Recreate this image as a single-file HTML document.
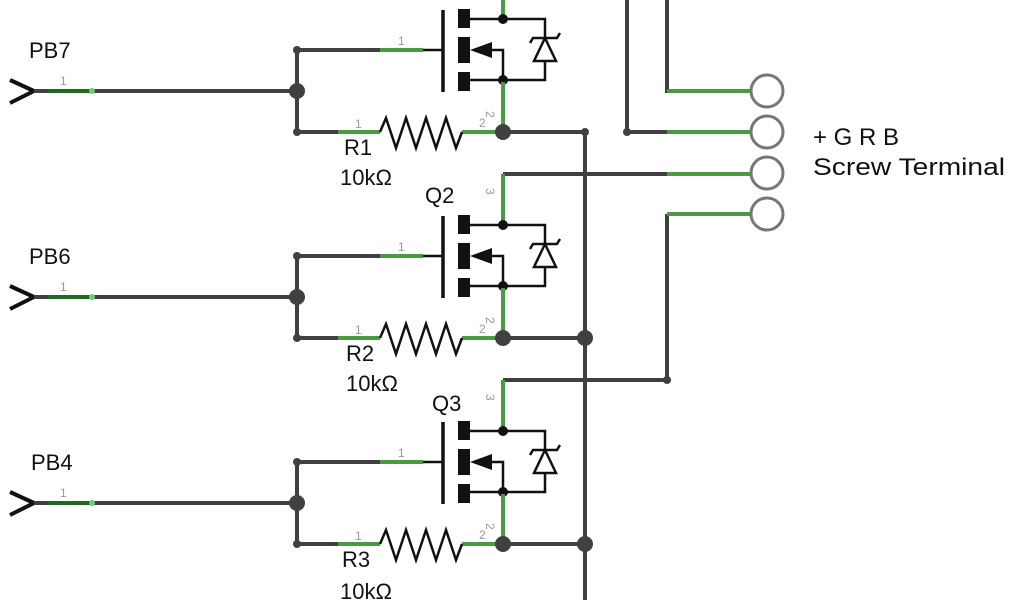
<!DOCTYPE html>
<html><head><style>html,body{margin:0;padding:0;background:#fff;width:1024px;height:600px;overflow:hidden}</style></head>
<body>
<svg width="1024" height="600" viewBox="0 0 1024 600" xmlns="http://www.w3.org/2000/svg" font-family="Liberation Sans, sans-serif">
<defs>
<g id="blk">
  <polyline points="10,80 34,91 10,103" fill="none" stroke="#111" stroke-width="4" stroke-linejoin="miter"/>
  <line x1="34" y1="91" x2="297" y2="91" stroke="#404040" stroke-width="4"/>
  <line x1="48" y1="91" x2="92" y2="91" stroke="#1f6a1f" stroke-width="4"/>
  <circle cx="92" cy="91" r="3" fill="#6fd06f"/>
  <text x="60" y="85" font-size="12" fill="#999">1</text>
  <line x1="297" y1="50" x2="297" y2="132" stroke="#404040" stroke-width="4"/>
  <circle cx="297" cy="91" r="8" fill="#404040"/>
  <circle cx="297" cy="50" r="4" fill="#404040"/>
  <circle cx="297" cy="132" r="4" fill="#404040"/>
  <line x1="297" y1="50" x2="423" y2="50" stroke="#404040" stroke-width="4"/>
  <line x1="380" y1="50" x2="423" y2="50" stroke="#4a9a44" stroke-width="4"/>
  <line x1="423" y1="50" x2="443" y2="50" stroke="#111" stroke-width="2.5"/>
  <text x="398" y="45" font-size="12" fill="#999">1</text>
  <line x1="443" y1="10" x2="443" y2="92" stroke="#111" stroke-width="3.5"/>
  <rect x="458" y="9" width="12" height="19" fill="#111"/>
  <rect x="458" y="37" width="12" height="26" fill="#111"/>
  <rect x="458" y="72" width="12" height="19" fill="#111"/>
  <polyline points="470,19 545,19 545,80 470,80" fill="none" stroke="#111" stroke-width="2.5"/>
  <polygon points="470,50 492,42 492,58" fill="#111"/>
  <polyline points="492,50 503,50 503,80" fill="none" stroke="#111" stroke-width="2.5"/>
  <circle cx="503" cy="19" r="5" fill="#111"/>
  <circle cx="503" cy="80" r="5" fill="#111"/>
  <polygon points="545,38 534,61 556,61" fill="#fff" stroke="#111" stroke-width="2.5"/>
  <polyline points="530,43 533,38 557,38 560,33" fill="none" stroke="#111" stroke-width="2.5"/>
  <line x1="503" y1="82" x2="503" y2="132" stroke="#4a9a44" stroke-width="4"/>
  <text x="485" y="120" font-size="12" fill="#999" transform="rotate(90 490 116)">2</text>
  <line x1="297" y1="132" x2="338" y2="132" stroke="#404040" stroke-width="4"/>
  <line x1="338" y1="132" x2="380" y2="132" stroke="#4a9a44" stroke-width="4"/>
  <line x1="462" y1="132" x2="503" y2="132" stroke="#4a9a44" stroke-width="4"/>
  <polyline points="380,132 386,118 396,148 406,118 416,148 426,118 436,148 446,118 456,148 462,132" fill="none" stroke="#111" stroke-width="2.5"/>
  <text x="355" y="128" font-size="12" fill="#999">1</text>
  <text x="479" y="127" font-size="12" fill="#999">2</text>
  <circle cx="503" cy="132" r="8" fill="#404040"/>
  <line x1="503" y1="132" x2="585" y2="132" stroke="#404040" stroke-width="4"/>
</g>
</defs>

<line x1="503" y1="0" x2="503" y2="19" stroke="#4a9a44" stroke-width="4"/>
<polyline points="667,0 667,91 750,91" fill="none" stroke="#404040" stroke-width="4"/>
<line x1="667" y1="91" x2="750" y2="91" stroke="#4a9a44" stroke-width="4"/>
<polyline points="627,0 627,132 667,132" fill="none" stroke="#404040" stroke-width="4"/>
<circle cx="627" cy="132" r="4" fill="#404040"/>
<line x1="667" y1="132" x2="750" y2="132" stroke="#4a9a44" stroke-width="4"/>
<polyline points="503,174 667,174" fill="none" stroke="#404040" stroke-width="4"/>
<line x1="667" y1="174" x2="750" y2="174" stroke="#4a9a44" stroke-width="4"/>
<line x1="503" y1="174" x2="503" y2="225" stroke="#4a9a44" stroke-width="4"/>
<polyline points="503,380 667,380 667,214" fill="none" stroke="#404040" stroke-width="4"/>
<circle cx="667" cy="380" r="4" fill="#404040"/>
<line x1="667" y1="214" x2="750" y2="214" stroke="#4a9a44" stroke-width="4"/>
<line x1="503" y1="380" x2="503" y2="431" stroke="#4a9a44" stroke-width="4"/>
<text x="486" y="196" font-size="12" fill="#999" transform="rotate(90 490 192)">3</text>
<text x="486" y="402" font-size="12" fill="#999" transform="rotate(90 490 398)">3</text>

<g fill="#fff" stroke="#777" stroke-width="3">
<circle cx="767" cy="91" r="16"/>
<circle cx="767" cy="132" r="16"/>
<circle cx="767" cy="173" r="16"/>
<circle cx="767" cy="214" r="16"/>
</g>

<use href="#blk"/>
<use href="#blk" y="206"/>
<use href="#blk" y="412"/>

<line x1="585" y1="132" x2="585" y2="600" stroke="#404040" stroke-width="4"/>
<circle cx="585" cy="132" r="4" fill="#404040"/>
<circle cx="585" cy="338" r="8" fill="#404040"/>
<circle cx="585" cy="544" r="8" fill="#404040"/>

<g font-size="22" fill="#111">
<text x="29" y="58">PB7</text>
<text x="29" y="264">PB6</text>
<text x="31" y="470">PB4</text>
<text x="344" y="155">R1</text>
<text x="346" y="361">R2</text>
<text x="342" y="567">R3</text>
<text x="340" y="185">10kΩ</text>
<text x="346" y="391">10kΩ</text>
<text x="340" y="599">10kΩ</text>
<text x="425" y="203">Q2</text>
<text x="432" y="411">Q3</text>
</g>
<g font-size="24" fill="#111">
<text x="813" y="145">+ G R B</text>
<text x="813" y="175" textLength="192" lengthAdjust="spacingAndGlyphs">Screw Terminal</text>
</g>
</svg>
</body></html>
